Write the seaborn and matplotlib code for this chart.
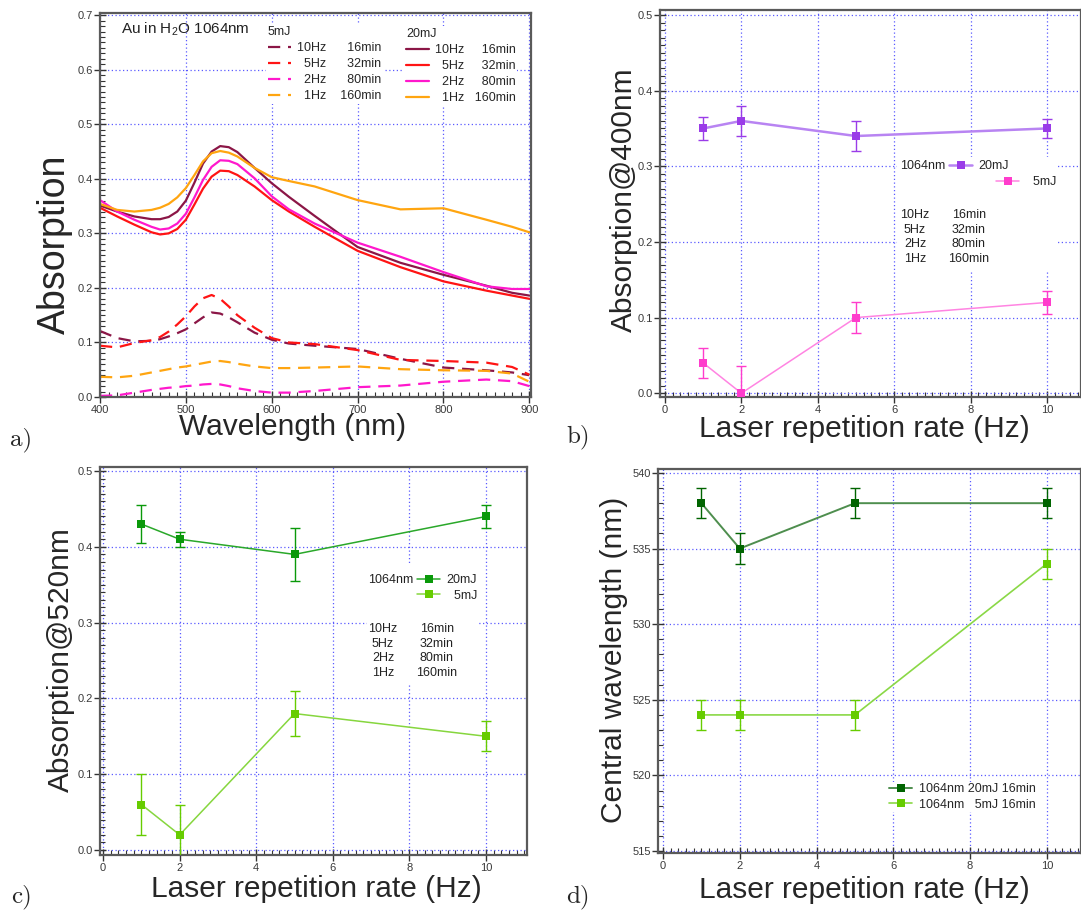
import matplotlib
matplotlib.use("Agg")
import numpy as np
import pandas as pd
import matplotlib.pyplot as plt
import seaborn as sns
from matplotlib.lines import Line2D
from matplotlib.patches import Rectangle
from matplotlib.ticker import MultipleLocator, FormatStrFormatter

# ---------------- data ----------------
wavelength = [400, 420, 440, 460, 470, 480, 490, 500, 510, 520, 530, 540, 550,
              560, 580, 600, 620, 650, 700, 750, 800, 850, 880, 900]

# 20 mJ spectra (solid)
abs_20mJ_10Hz = [0.351, 0.340, 0.331, 0.326, 0.326, 0.330, 0.340, 0.360, 0.393, 0.428, 0.450, 0.460, 0.458,
                 0.449, 0.420, 0.392, 0.367, 0.332, 0.275, 0.246, 0.224, 0.204, 0.191, 0.186]
abs_20mJ_5Hz = [0.347, 0.331, 0.316, 0.302, 0.298, 0.300, 0.308, 0.325, 0.353, 0.382, 0.404, 0.415, 0.414,
                0.407, 0.386, 0.361, 0.340, 0.312, 0.268, 0.238, 0.212, 0.195, 0.186, 0.180]
abs_20mJ_2Hz = [0.361, 0.340, 0.325, 0.312, 0.307, 0.309, 0.318, 0.336, 0.366, 0.398, 0.422, 0.434, 0.433,
                0.427, 0.401, 0.368, 0.344, 0.318, 0.283, 0.257, 0.229, 0.203, 0.198, 0.198]
abs_20mJ_1Hz = [0.354, 0.343, 0.340, 0.343, 0.347, 0.354, 0.366, 0.383, 0.407, 0.432, 0.447, 0.451, 0.448,
                0.441, 0.420, 0.403, 0.396, 0.386, 0.361, 0.344, 0.346, 0.325, 0.312, 0.302]

# 5 mJ spectra (dashed)
abs_5mJ_10Hz = [0.121, 0.108, 0.102, 0.103, 0.106, 0.111, 0.117, 0.124, 0.135, 0.146, 0.155, 0.153, 0.146,
                0.137, 0.118, 0.105, 0.098, 0.094, 0.088, 0.070, 0.054, 0.049, 0.045, 0.040]
abs_5mJ_5Hz = [0.094, 0.091, 0.099, 0.104, 0.110, 0.120, 0.133, 0.148, 0.166, 0.181, 0.187, 0.180, 0.166,
               0.150, 0.127, 0.108, 0.100, 0.097, 0.086, 0.068, 0.066, 0.063, 0.055, 0.041]
abs_5mJ_2Hz = [0.002, 0.003, 0.008, 0.013, 0.015, 0.017, 0.018, 0.020, 0.021, 0.023, 0.024, 0.023, 0.020,
               0.016, 0.011, 0.008, 0.008, 0.011, 0.018, 0.021, 0.028, 0.032, 0.029, 0.020]
abs_5mJ_1Hz = [0.037, 0.036, 0.039, 0.045, 0.048, 0.051, 0.054, 0.056, 0.059, 0.062, 0.065, 0.066, 0.064,
               0.061, 0.056, 0.053, 0.053, 0.054, 0.056, 0.051, 0.049, 0.048, 0.043, 0.028]

rate_labels = ["10Hz", "5Hz", "2Hz", "1Hz"]
duration_labels = ["16min", "32min", "80min", "160min"]

rate_hz = [1, 2, 5, 10]
a400_20mJ = [0.35, 0.36, 0.34, 0.35]
a400_20mJ_err = [0.015, 0.02, 0.02, 0.012]
a400_5mJ = [0.04, 0.0, 0.10, 0.12]
a400_5mJ_err = [0.02, 0.036, 0.02, 0.015]

a520_20mJ = [0.43, 0.41, 0.39, 0.44]
a520_20mJ_err = [0.025, 0.01, 0.035, 0.015]
a520_5mJ = [0.06, 0.02, 0.18, 0.15]
a520_5mJ_err = [0.04, 0.04, 0.03, 0.02]

center_20mJ = [538, 535, 538, 538]
center_20mJ_err = [1, 1, 1, 1]
center_5mJ = [524, 524, 524, 534]
center_5mJ_err = [1, 1, 1, 1]

# ---------------- style ----------------
sns.set_theme(style="ticks")
plt.rcParams['font.family'] = ['Liberation Sans', 'DejaVu Sans']
plt.rcParams['mathtext.fontset'] = 'custom'
plt.rcParams['mathtext.rm'] = 'Liberation Sans'
plt.rcParams['mathtext.it'] = 'Liberation Sans:italic'
plt.rcParams['axes.facecolor'] = 'white'

W, H = 1081, 911
fig = plt.figure(figsize=(W / 100, H / 100), dpi=100)
fig.patch.set_facecolor('white')


def fx(x):
    return x / W


def fy(y):
    return 1 - y / H


def box(x0, y0, x1, y1):
    return [fx(x0), fy(y1), (x1 - x0) / W, (y1 - y0) / H]


GRID = '#5b5bff'
SPINE = '#5a5a5a'
TICKLAB = '#3a3a3a'


def style_axes(ax, xmaj, xmin, ymaj, ymin, yfmt):
    ax.xaxis.set_major_locator(MultipleLocator(xmaj))
    ax.xaxis.set_minor_locator(MultipleLocator(xmin))
    ax.yaxis.set_major_locator(MultipleLocator(ymaj))
    ax.yaxis.set_minor_locator(MultipleLocator(ymin))
    ax.yaxis.set_major_formatter(FormatStrFormatter(yfmt))
    ax.set_axisbelow(True)
    ax.grid(True, which='major', color=GRID, linestyle=(0, (1, 2)), linewidth=0.9)
    ax.tick_params(which='major', direction='inout', length=8, width=1, color='#333333',
                   labelsize=8, labelcolor=TICKLAB, top=False, right=False)
    ax.tick_params(which='minor', direction='in', length=3.5, width=0.8, color='#333333',
                   top=False, right=False)
    ax.tick_params(axis='y', which='major', pad=1)
    ax.tick_params(axis='x', which='major', pad=1.5)
    for s in ax.spines.values():
        s.set_color(SPINE)
        s.set_linewidth(1.6)
    ax.set_xlabel('')
    ax.set_ylabel('')


LABEL_FS = 21.5

# ---------------- panel a: spectra ----------------
ax_a = fig.add_axes(box(100, 13, 531, 397))
colors = ['#8b1646', '#ff1414', '#ff18cc', '#ffa510']
solid_sets = [abs_20mJ_10Hz, abs_20mJ_5Hz, abs_20mJ_2Hz, abs_20mJ_1Hz]
dashed_sets = [abs_5mJ_10Hz, abs_5mJ_5Hz, abs_5mJ_2Hz, abs_5mJ_1Hz]
dash_style = (0, (5.5, 3.5))

for vals, c in zip(dashed_sets, colors):
    sns.lineplot(x=wavelength, y=vals, ax=ax_a, color=c, linewidth=1.6,
                 linestyle=dash_style, legend=False)
for vals, c in zip(solid_sets, colors):
    sns.lineplot(x=wavelength, y=vals, ax=ax_a, color=c, linewidth=1.6, legend=False)

ax_a.set_xlim(400, 902)
ax_a.set_ylim(0, 0.704)
style_axes(ax_a, 100, 10, 0.1, 0.01, '%.1f')

labels_5 = [("  " if len(r) == 3 else "") + r + ("      " if len(d) == 5 else "    ") + d
            for r, d in zip(rate_labels, duration_labels)]
labels_20 = [("  " if len(r) == 3 else "") + r + ("     " if len(d) == 5 else "   ") + d
             for r, d in zip(rate_labels, duration_labels)]
h5 = [Line2D([], [], color=c, linewidth=1.6, linestyle=dash_style) for c in colors]
h20 = [Line2D([], [], color=c, linewidth=1.6) for c in colors]
leg_kw = dict(frameon=True, facecolor='white', edgecolor='none', framealpha=1, fancybox=False,
              fontsize=9, title_fontsize=9, alignment='left', handlelength=1.85,
              handletextpad=0.45, labelspacing=0.32, borderpad=0.15, borderaxespad=0,
              loc='upper left', bbox_transform=fig.transFigure)
leg_a1 = ax_a.legend(handles=h5, labels=labels_5, title='5mJ',
                     bbox_to_anchor=(fx(266), fy(24)), **leg_kw)
ax_a.add_artist(leg_a1)
ax_a.legend(handles=h20, labels=labels_20, title='20mJ',
            bbox_to_anchor=(fx(404), fy(26)), **leg_kw)
fig.text(fx(121), fy(29), 'Au in H$_2$O 1064nm', fontsize=11, va='center', ha='left', color='#222222')

fig.text(fx(55), fy(244), 'Absorption', fontsize=27, rotation=90, ha='center', va='center')
fig.text(fx(293), fy(435), 'Wavelength (nm)', fontsize=LABEL_FS, ha='center', va='baseline')


# ---------------- helper for rate panels ----------------
MS = 5.2


def rate_series(ax, y, err, mcolor, lcolor, lw):
    sns.lineplot(x=rate_hz, y=y, ax=ax, color=lcolor, linewidth=lw, marker='s', markersize=MS,
                 markerfacecolor=mcolor, markeredgecolor=mcolor, markeredgewidth=0, legend=False,
                 zorder=3)
    ax.errorbar(rate_hz, y, yerr=err, fmt='none', ecolor=mcolor, elinewidth=1,
                capsize=3.5, capthick=1, zorder=3)
    return Line2D([], [], color=lcolor, linewidth=lw, marker='s', markersize=MS,
                  markerfacecolor=mcolor, markeredgecolor=mcolor, markeredgewidth=0)


def white_block(ax, x0, y0, x1, y1):
    ax.add_patch(Rectangle((fx(x0), fy(y1)), (x1 - x0) / W, (y1 - y0) / H,
                           transform=fig.transFigure, facecolor='white', edgecolor='none',
                           zorder=2.5))


def rate_table(x1, x2, yc):
    fig.text(fx(x1), fy(yc), "\n".join(rate_labels), fontsize=9, ha='center', va='center',
             multialignment='center', linespacing=1.28, color='#222222', zorder=6)
    fig.text(fx(x2), fy(yc), "\n".join(duration_labels), fontsize=9, ha='center', va='center',
             multialignment='center', linespacing=1.28, color='#222222', zorder=6)


small_leg = dict(frameon=False, fontsize=9, handlelength=1.85, handletextpad=0.5,
                 labelspacing=0.28, borderpad=0.1, borderaxespad=0, loc='center left',
                 bbox_transform=fig.transFigure)

# ---------------- panel b ----------------
ax_b = fig.add_axes(box(660, 10, 1081, 397))
hb20 = rate_series(ax_b, a400_20mJ, a400_20mJ_err, '#9a3ce8', '#b884f2', 1.8)
hb5 = rate_series(ax_b, a400_5mJ, a400_5mJ_err, '#ff3ccc', '#ff84e2', 1.1)
ax_b.set_xlim(-0.13, 10.89)
ax_b.set_ylim(-0.005, 0.5066)
style_axes(ax_b, 2, 0.2, 0.1, 0.01, '%.1f')
white_block(ax_b, 897, 157, 1057, 270)
leg_b1 = ax_b.legend(handles=[hb20], labels=['20mJ'], bbox_to_anchor=(fx(948), fy(166)), **small_leg)
ax_b.add_artist(leg_b1)
ax_b.legend(handles=[hb5], labels=['  5mJ'], bbox_to_anchor=(fx(995), fy(182)), **small_leg)
fig.text(fx(900), fy(166), '1064nm', fontsize=9, ha='left', va='center', color='#222222')
rate_table(915, 969, 237)
fig.text(fx(624), fy(200), 'Absorption@400nm', fontsize=LABEL_FS, rotation=90, ha='center', va='center')
fig.text(fx(864), fy(437), 'Laser repetition rate (Hz)', fontsize=LABEL_FS, ha='center', va='baseline')

# ---------------- panel c ----------------
ax_c = fig.add_axes(box(100, 467, 527, 855))
hc20 = rate_series(ax_c, a520_20mJ, a520_20mJ_err, '#0a990a', '#2aa82a', 1.1)
hc5 = rate_series(ax_c, a520_5mJ, a520_5mJ_err, '#66cc00', '#86d63e', 1.1)
ax_c.set_xlim(-0.08, 11.07)
ax_c.set_ylim(-0.0066, 0.5053)
style_axes(ax_c, 2, 0.2, 0.1, 0.01, '%.1f')
white_block(ax_c, 367, 563, 478, 683)
ax_c.legend(handles=[hc20, hc5], labels=['20mJ', '  5mJ'], bbox_to_anchor=(fx(416), fy(588)), **small_leg)
fig.text(fx(368), fy(580), '1064nm', fontsize=9, ha='left', va='center', color='#222222')
rate_table(383, 437, 651)
fig.text(fx(61), fy(660), 'Absorption@520nm', fontsize=LABEL_FS, rotation=90, ha='center', va='center')
fig.text(fx(316), fy(897), 'Laser repetition rate (Hz)', fontsize=LABEL_FS, ha='center', va='baseline')

# ---------------- panel d ----------------
ax_d = fig.add_axes(box(658, 469, 1081, 853))
hd20 = rate_series(ax_d, center_20mJ, center_20mJ_err, '#006400', '#4e8e4e', 1.4)
hd5 = rate_series(ax_d, center_5mJ, center_5mJ_err, '#66cc00', '#8ad846', 1.2)
ax_d.set_xlim(-0.13, 10.89)
ax_d.set_ylim(514.87, 540.26)
style_axes(ax_d, 2, 0.2, 5, 1, '%d')
leg_d = ax_d.legend(handles=[hd20, hd5], labels=['1064nm 20mJ 16min', '1064nm   5mJ 16min'],
                    bbox_to_anchor=(fx(888), fy(797)), **dict(small_leg, frameon=True))
leg_d.get_frame().set_facecolor('white')
leg_d.get_frame().set_edgecolor('none')
leg_d.get_frame().set_alpha(1)
fig.text(fx(614), fy(660), 'Central wavelength (nm)', fontsize=LABEL_FS, rotation=90, ha='center', va='center')
fig.text(fx(864), fy(898), 'Laser repetition rate (Hz)', fontsize=LABEL_FS, ha='center', va='baseline')

# ---------------- panel letters ----------------
for letter, (x, y) in zip(['a)', 'b)', 'c)', 'd)'], [(21, 440), (578, 437), (21, 897), (578, 897)]):
    fig.text(fx(x), fy(y), letter, fontsize=18, family='cmr10', ha='center', va='center')

fig.savefig('out.png', dpi=100, facecolor='white')
